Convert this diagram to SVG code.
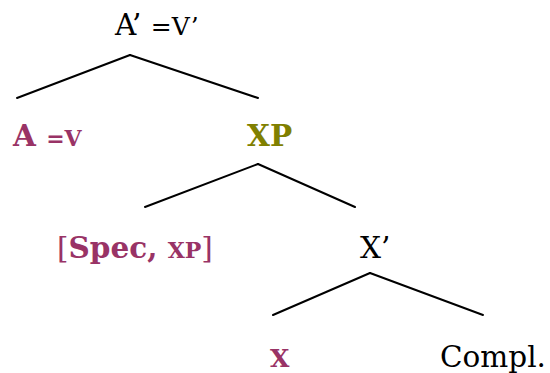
<svg xmlns="http://www.w3.org/2000/svg" width="550" height="373" viewBox="0 0 550 373">
<style>
text{font-family:"DejaVu Serif","Liberation Serif",serif;font-size:29.5px;fill:#000}
.b{font-weight:bold}
.p{fill:#993366}
.o{fill:#808000}
.sc{font-size:22px}
.sc2{font-size:25px}
line{stroke:#000;stroke-width:2;stroke-linecap:round}
</style>
<rect width="550" height="373" fill="#fff"/>
<g id="connectors">
<line x1="130" y1="55" x2="17" y2="98"/>
<line x1="130" y1="55" x2="258" y2="98"/>
<line x1="258" y1="164" x2="145" y2="207"/>
<line x1="258" y1="164" x2="355" y2="207"/>
<line x1="370" y1="273" x2="273" y2="315"/>
<line x1="370" y1="273" x2="483" y2="315"/>
</g>
<g id="n-Abar"><text x="115" y="35">A’ <tspan class="sc2">=V’</tspan></text></g>
<g id="n-A"><text x="13" y="146" class="b p">A <tspan class="sc">=V</tspan></text></g>
<g id="n-XP"><text x="247" y="146" class="b o">XP</text></g>
<g id="n-Spec"><text x="57" y="258" class="p">[<tspan class="b">Spec, <tspan class="sc">XP</tspan></tspan>]</text></g>
<g id="n-Xbar"><text x="360" y="258">X’</text></g>
<g id="n-X"><text x="270" y="367" class="b p sc2">X</text></g>
<g id="n-Compl"><text x="440" y="367">Compl.</text></g>
</svg>
